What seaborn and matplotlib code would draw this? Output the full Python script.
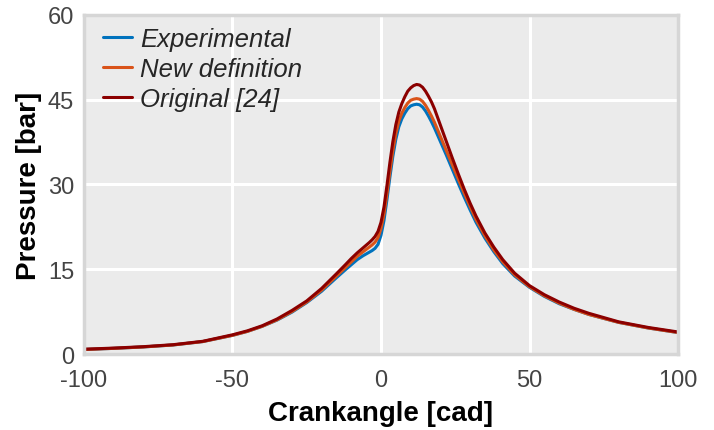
import numpy as np
import pandas as pd
import matplotlib
matplotlib.use("Agg")
import matplotlib.pyplot as plt
import seaborn as sns

# Crank angle samples [cad]
crank_angle = [-100, -90, -80, -70, -60, -50, -45, -40, -35, -30, -25, -20, -15, -12, -10,
               -8, -6, -4, -3, -2, -1, 0, 1, 2, 3, 4, 5, 6, 7, 8, 9, 10, 11, 12, 13, 14,
               15, 16, 17, 18, 20, 22, 24, 26, 28, 30, 32, 35, 38, 41, 45, 50, 55, 60,
               65, 70, 80, 90, 100]

# In-cylinder pressure [bar]
p_experimental = [0.8, 1.0, 1.25, 1.6, 2.2, 3.3, 4.0, 4.9, 6.0, 7.4, 9.1, 11.1, 13.5, 14.9, 15.8,
                  16.7, 17.4, 18.0, 18.3, 18.7, 19.4, 21.0, 23.6, 27.3, 31.3, 35.0, 38.0, 40.2, 41.6, 42.6,
                  43.4, 43.9, 44.1, 44.2, 44.1, 43.7, 43.0, 42.1, 41.1, 40.0, 37.6, 35.2, 32.7, 30.2,
                  27.8, 25.5, 23.3, 20.5, 18.1, 16.0, 13.8, 11.8, 10.2, 8.9, 7.9, 7.0, 5.6, 4.6, 3.8]
p_new_definition = [0.8, 1.0, 1.25, 1.6, 2.2, 3.3, 4.0, 4.9, 6.05, 7.5, 9.2, 11.3, 13.8, 15.3, 16.3,
                    17.3, 18.1, 18.9, 19.3, 19.8, 20.6, 22.2, 24.7, 28.3, 32.3, 36.0, 39.0, 41.2, 42.6, 43.6,
                    44.4, 44.9, 45.1, 45.2, 45.1, 44.7, 44.0, 43.1, 42.1, 41.0, 38.5, 36.0, 33.5, 31.0,
                    28.5, 26.1, 23.8, 20.9, 18.4, 16.3, 14.0, 11.9, 10.3, 9.0, 7.9, 7.0, 5.6, 4.6, 3.8]
p_original = [0.85, 1.05, 1.3, 1.65, 2.25, 3.4, 4.1, 5.0, 6.2, 7.7, 9.4, 11.6, 14.2, 15.8, 16.9,
              17.9, 18.8, 19.7, 20.2, 20.8, 21.7, 23.3, 26.0, 29.8, 33.9, 37.6, 40.6, 42.8, 44.3, 45.5,
              46.5, 47.1, 47.5, 47.7, 47.6, 47.2, 46.5, 45.6, 44.6, 43.4, 40.5, 37.6, 34.7, 31.9,
              29.2, 26.7, 24.4, 21.4, 18.9, 16.7, 14.3, 12.1, 10.5, 9.2, 8.1, 7.2, 5.7, 4.7, 3.9]

series_names = ["Experimental", "New definition", "Original [24]"]
series_colors = ["#0072BD", "#D95319", "#8B0000"]

x_ticks = [-100, -50, 0, 50, 100]
y_ticks = [0, 15, 30, 45, 60]

df = pd.DataFrame({
    "Crankangle": crank_angle * 3,
    "Pressure": p_experimental + p_new_definition + p_original,
    "Model": [series_names[0]] * len(crank_angle)
             + [series_names[1]] * len(crank_angle)
             + [series_names[2]] * len(crank_angle),
})

sns.set_style("darkgrid", {
    "axes.facecolor": "#EBEBEB",
    "axes.edgecolor": "#D6D6D6",
    "grid.color": "white",
})
plt.rcParams["font.family"] = ["Liberation Sans", "DejaVu Sans"]

fig = plt.figure(figsize=(7.14, 4.31), dpi=100)
ax = fig.add_axes([0.1176, 0.1763, 0.8320, 0.7867])

sns.lineplot(data=df, x="Crankangle", y="Pressure", hue="Model",
             hue_order=series_names, palette=series_colors,
             linewidth=2.2, ax=ax, sort=False, estimator=None)

ax.set_xlim(-100, 100)
ax.set_ylim(0, 60)
ax.set_xticks(x_ticks)
ax.set_yticks(y_ticks)
ax.set_xticklabels([str(t) for t in x_ticks])
ax.set_yticklabels([str(t) for t in y_ticks])
ax.tick_params(axis="both", length=0, labelsize=17, labelcolor="#444444")
ax.tick_params(axis="x", pad=11)
ax.tick_params(axis="y", pad=7)
ax.grid(True, color="white", linewidth=2.2)

for spine in ax.spines.values():
    spine.set_visible(True)
    spine.set_color("#D6D6D6")
    spine.set_linewidth(2.5)

ax.set_xlabel("Crankangle [cad]", fontsize=20, fontweight="bold", color="black", labelpad=6)
ax.set_ylabel("Pressure [bar]", fontsize=20, fontweight="bold", color="black", labelpad=4)

leg = ax.legend(loc="upper left", bbox_to_anchor=(0.015, 0.995), frameon=False,
                handlelength=1.13, handletextpad=0.3, labelspacing=0.24,
                borderaxespad=0.2, borderpad=0.2,
                prop={"style": "italic", "size": 18.5})
for line in leg.get_lines():
    line.set_linewidth(2.2)

fig.savefig("out.png", dpi=100)
